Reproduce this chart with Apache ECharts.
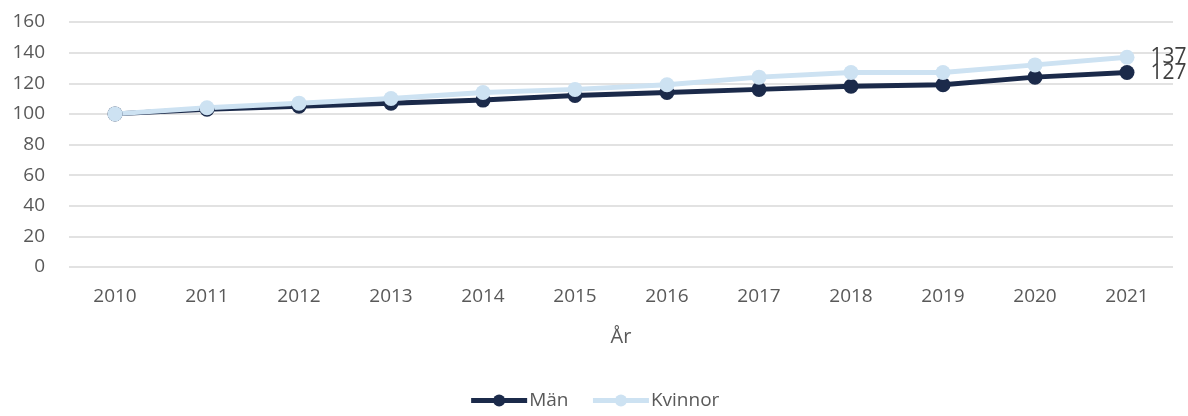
<!DOCTYPE html>
<html>
<head>
<meta charset="utf-8">
<script src="https://cdn.jsdelivr.net/npm/echarts@6/dist/echarts.min.js"></script>
<style>
  html, body { margin: 0; padding: 0; background: #fff; }
  #chart-container { width: 1188px; height: 416px; }
</style>
</head>
<body>
<div id="chart-container"></div>
<script>
var years = ['2010', '2011', '2012', '2013', '2014', '2015', '2016', '2017', '2018', '2019', '2020', '2021'];
var man = [100, 103, 105, 107, 109, 112, 114, 116, 118, 119, 124, 127];
var kvinnor = [100, 104, 107, 110, 114, 116, 119, 124, 127, 127, 132, 137];

var dom = document.getElementById('chart-container');
var myChart = echarts.init(dom, null, { renderer: 'canvas' });

var fontFam = '"Open Sans", "Liberation Sans", sans-serif';

// only the last point carries a value label
function lastLabel(arr) {
  return arr.map(function (v, i) {
    if (i === arr.length - 1) {
      return { value: v, label: { show: true } };
    }
    return v;
  });
}

var option = {
  animation: false,
  textStyle: { fontFamily: fontFam },
  grid: { left: 69, right: 15, top: 22, bottom: 149, containLabel: false },
  legend: {
    bottom: 1,
    left: 'center',
    itemWidth: 56,
    itemHeight: 15,
    itemGap: 22,
    lineStyle: { width: 5 },
    textStyle: { fontSize: 19, color: '#595959', fontFamily: fontFam, padding: [0, 0, 0, -3] },
    data: ['Män', 'Kvinnor']
  },
  xAxis: {
    type: 'category',
    data: years,
    boundaryGap: true,
    name: 'År',
    nameLocation: 'middle',
    nameGap: 60,
    nameTextStyle: { fontSize: 20, color: '#595959' },
    axisLine: { show: false },
    axisTick: { show: false },
    axisLabel: { fontSize: 19, color: '#595959', margin: 20 }
  },
  yAxis: {
    type: 'value',
    min: 0,
    max: 160,
    interval: 20,
    axisLine: { show: false },
    axisTick: { show: false },
    axisLabel: { fontSize: 19, color: '#595959', margin: 24 },
    splitLine: { lineStyle: { color: '#d9d9d9', width: 1.5 } }
  },
  series: [
    {
      name: 'Män',
      type: 'line',
      data: lastLabel(man),
      symbol: 'circle',
      symbolSize: 15,
      itemStyle: { color: '#1b2a4a' },
      lineStyle: { color: '#1b2a4a', width: 5 },
      label: { show: false, position: 'right', distance: 16, fontSize: 21, color: '#404040' }
    },
    {
      name: 'Kvinnor',
      type: 'line',
      data: lastLabel(kvinnor),
      symbol: 'circle',
      symbolSize: 15,
      itemStyle: { color: '#cde2f2' },
      lineStyle: { color: '#cde2f2', width: 5 },
      label: { show: false, position: 'right', distance: 16, fontSize: 21, color: '#404040' }
    }
  ]
};

myChart.setOption(option);
window.addEventListener('resize', myChart.resize);
</script>
</body>
</html>
